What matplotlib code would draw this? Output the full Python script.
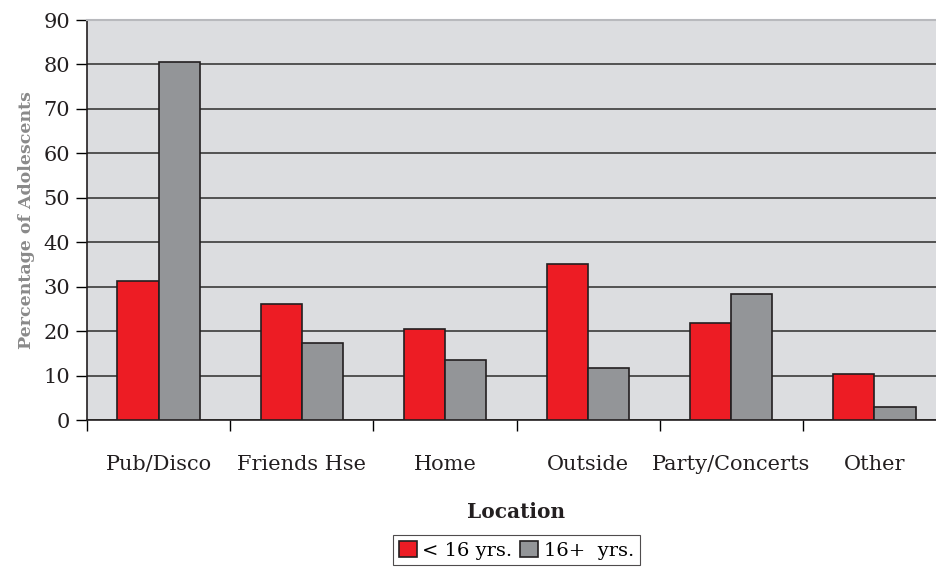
import matplotlib
matplotlib.use("Agg")
import matplotlib.pyplot as plt
import numpy as np

# データ
locations = ["Pub/Disco", "Friends Hse", "Home", "Outside", "Party/Concerts", "Other"]
under16 = [31.3, 26.1, 20.4, 35.2, 21.9, 10.3]
over16 = [80.5, 17.4, 13.6, 11.6, 28.4, 2.9]
series_labels = ["< 16 yrs.", "16+  yrs."]

plt.rcParams["font.family"] = ["DejaVu Serif"]

fig = plt.figure(figsize=(9.37, 5.69), dpi=100)
ax = fig.add_axes([87 / 937, 1 - 420 / 569, (946 - 87) / 937, 400 / 569])
ax.set_facecolor("#dcdde0")

x = np.arange(len(locations))
w = 0.287
ax.bar(x - w / 2, under16, w, color="#ed1c24", edgecolor="#231f20", linewidth=1.2,
       label=series_labels[0], zorder=3)
ax.bar(x + w / 2, over16, w, color="#939598", edgecolor="#231f20", linewidth=1.2,
       label=series_labels[1], zorder=3)

ax.set_xlim(-0.5, len(locations) - 0.5)
ax.set_ylim(0, 90)
ax.set_yticks(range(0, 91, 10))
ax.yaxis.grid(True, color="#3a3a3a", linewidth=1.2, zorder=1)
ax.set_axisbelow(True)

# カテゴリ境界に目盛り、ラベルは中央
ax.set_xticks(np.arange(-0.5, len(locations), 1.0))
ax.set_xticklabels([])
ax.set_xticks(x, minor=True)
ax.set_xticklabels(locations, minor=True, fontsize=15, color="#231f20")
ax.tick_params(axis="x", which="major", length=8, width=1, direction="out")
ax.tick_params(axis="x", which="minor", length=0, pad=25)
ax.tick_params(axis="y", length=8, width=1, direction="out", labelsize=15,
               labelcolor="#231f20", pad=4)

for s in ["left", "bottom"]:
    ax.spines[s].set_color("#231f20")
    ax.spines[s].set_linewidth(1.2)
ax.spines["top"].set_color("#b8b9bd")
ax.spines["top"].set_linewidth(1.5)
ax.spines["right"].set_visible(False)

ax.set_xlabel("Location", fontsize=14.5, fontweight="bold", color="#231f20", labelpad=20)
ax.set_ylabel("Percentage of Adolescents", fontsize=12.5, fontweight="bold",
              color="#8a8a8a", labelpad=6)

leg = ax.legend(loc="upper center", bbox_to_anchor=(0.5, -0.2875), ncol=2,
                fontsize=14, frameon=True, fancybox=False, handlelength=0.9,
                handleheight=0.9, handletextpad=0.3, columnspacing=0.4,
                borderpad=0.3, borderaxespad=0)
leg.get_frame().set_edgecolor("#231f20")
leg.get_frame().set_linewidth(0.8)

fig.savefig("out.png", dpi=100)
